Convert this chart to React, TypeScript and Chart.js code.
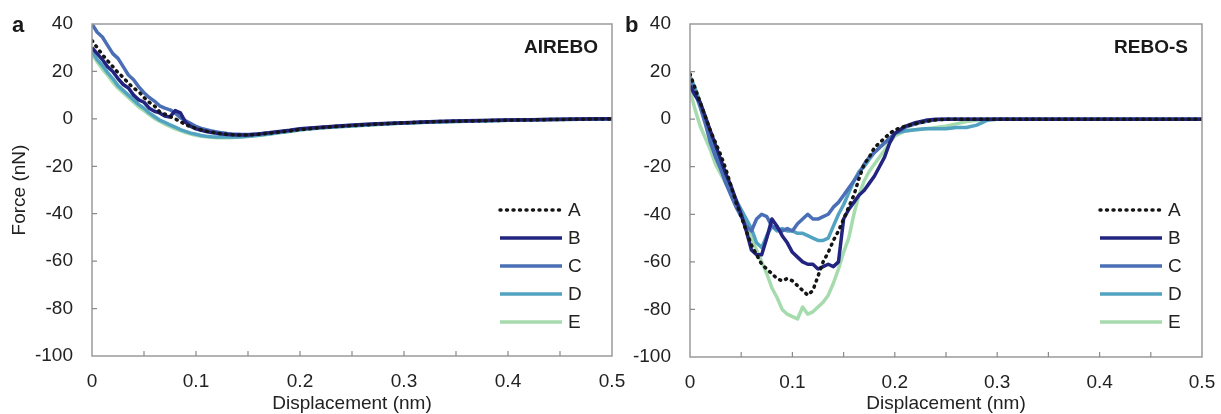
import React, { useEffect, useRef } from "react";
import { Chart, registerables } from "chart.js";

Chart.register(...registerables);

const seriesNames = ["A", "B", "C", "D", "E"];
const seriesColors = ["#151515", "#22247f", "#4a6fb6", "#51a3c1", "#a6dbae"];

const xTickMarks = [0.05, 0.1, 0.15, 0.2, 0.25, 0.3, 0.35, 0.4, 0.45];
const yTickMarks = [-80, -60, -40, -20, 0, 20];

// Panel a: AIREBO
const airX = [
  0, 0.005, 0.01, 0.015, 0.02, 0.025, 0.03, 0.035, 0.04, 0.045, 0.05, 0.055, 0.06, 0.065, 0.07, 0.075,
  0.08, 0.085, 0.09, 0.095, 0.1, 0.105, 0.11, 0.115, 0.12, 0.125, 0.13, 0.135, 0.14, 0.145, 0.15,
  0.16, 0.17, 0.18, 0.19, 0.2, 0.22, 0.24, 0.26, 0.28, 0.3, 0.33, 0.36, 0.4, 0.44, 0.47, 0.5,
];
const airA = [
  33, 30, 27, 24.5, 22, 19.5, 17.5, 15, 13, 11.5, 9, 7, 5.5, 3, 2, 1, 0, -1.2, -2.5, -3.3, -4, -4.6, -5.2, -5.6,
  -6, -6.3, -6.5, -6.7, -6.8, -6.8, -6.8,
  -6.5, -6.1, -5.6, -5.1, -4.5, -3.7, -3.1, -2.6, -2.1, -1.7, -1.2, -0.9, -0.6, -0.3, -0.15, 0,
];
const airB = [
  30, 27.5, 25, 22, 20, 17, 14.5, 13, 10, 8, 7, 4.5, 3.2, 2.5, 1.2, 0.8, 3.5, 2.5, -1.5, -3.2, -4.2, -4.8, -5.3,
  -5.8, -6.1, -6.4, -6.6, -6.7, -6.8, -6.8, -6.8,
  -6.4, -5.9, -5.3, -4.8, -4.2, -3.5, -2.9, -2.4, -2, -1.6, -1.1, -0.8, -0.5, -0.3, -0.1, 0,
];
const airC = [
  40, 36.5, 34.5, 31, 27.5, 25.5, 22, 18.5, 16.5, 13.5, 11, 9, 7.5, 5.5, 4.5, 3.8, 2.5, 0.5, -0.8, -2, -3.2, -4,
  -4.6, -5.1, -5.5, -5.9, -6.2, -6.4, -6.5, -6.6, -6.6,
  -6.4, -6, -5.5, -5, -4.4, -3.6, -3, -2.5, -2.1, -1.7, -1.2, -0.9, -0.6, -0.3, -0.15, 0,
];
const airD = [
  28.5, 25, 22.5, 19.5, 17, 14, 12, 10, 8, 6, 4.5, 2.5, 1, -0.5, -1.5, -2.5, -3.5, -4.5, -5.3, -6, -6.5, -7, -7.3,
  -7.5, -7.6, -7.7, -7.7, -7.7, -7.6, -7.5, -7.3,
  -6.9, -6.4, -5.8, -5.2, -4.6, -3.8, -3.2, -2.7, -2.2, -1.8, -1.3, -1, -0.6, -0.3, -0.15, 0,
];
const airE = [
  27.5, 24, 21, 18.5, 15.5, 13, 11, 9, 7, 5, 3.5, 1.8, 0.2, -1, -2.2, -3.2, -4.2, -5, -5.8, -6.4, -6.9, -7.3, -7.6,
  -7.8, -8, -8, -8, -7.9, -7.8, -7.6, -7.4,
  -7, -6.5, -5.9, -5.3, -4.7, -3.9, -3.3, -2.8, -2.3, -1.8, -1.3, -1, -0.6, -0.3, -0.15, 0,
];

// Panel b: REBO-S
const reboX = [
  0, 0.005, 0.01, 0.015, 0.02, 0.025, 0.03, 0.035, 0.04, 0.045, 0.05, 0.055, 0.06, 0.065, 0.07, 0.075, 0.08,
  0.085, 0.09, 0.095, 0.1, 0.105, 0.11, 0.115, 0.12, 0.125, 0.13, 0.135, 0.14, 0.145, 0.15, 0.155, 0.16, 0.165,
  0.17, 0.175, 0.18, 0.185, 0.19, 0.195, 0.2,
  0.21, 0.22, 0.23, 0.24, 0.25, 0.26, 0.27, 0.28, 0.29, 0.3, 0.35, 0.4, 0.45, 0.5,
];
const reboA = [
  19, 13, 7, 1, -5, -10, -15, -21, -28, -35, -41, -47, -53, -57, -61, -63, -65, -67, -68, -67, -68, -70, -72, -74,
  -72, -66, -60, -56, -51, -47, -42, -37, -32, -25, -19, -16, -12, -10, -8, -6, -4.5,
  -3, -2, -1, -0.3, 0, 0, 0, 0, 0, 0, 0, 0, 0, 0,
];
const reboB = [
  14, 10, 7, 1, -5, -11, -17, -23, -28, -34, -40, -47, -55, -57, -57, -50, -42, -45, -49, -52, -56, -58, -60, -61,
  -61, -63, -62, -61, -62, -60, -42, -38, -35, -32, -30, -27, -24, -20, -16, -10, -6,
  -3, -1.5, -0.5, 0, 0, 0, 0, 0, 0, 0, 0, 0, 0, 0,
];
const reboC = [
  16, 11, 5, -2, -10, -16, -21, -27, -32, -37, -41, -45, -47, -42, -40, -41, -45, -46, -47, -46, -47, -44, -42,
  -40, -42, -42, -41, -40, -37, -35, -32, -29, -26, -23, -19, -16, -14, -12, -10, -8, -6,
  -3.5, -2, -1, -0.3, 0, 0, 0, 0, 0, 0, 0, 0, 0, 0,
];
const reboD = [
  18, 13, 7, 1, -6, -14, -20, -25, -29, -34, -38, -42, -46, -52, -54, -49, -45, -47, -46, -47, -47, -48, -48, -49,
  -50, -51, -51, -50, -45, -40, -36, -31, -26, -22, -20, -17, -14, -12, -10, -8, -6,
  -5, -4.5, -4, -4, -4, -3.5, -3.5, -2.5, -0.5, 0, 0, 0, 0, 0,
];
const reboE = [
  12, 4, -3, -8, -13, -19, -23, -27, -31, -35, -39, -44, -50, -55, -60, -65, -71, -75, -80, -82, -83, -84, -79,
  -82, -81, -79, -77, -74, -69, -63, -56, -50, -40, -32, -26, -22, -19, -16, -13, -10, -7,
  -5, -4.5, -4, -3.5, -3, -2, -1, -0.5, 0, 0, 0, 0, 0, 0,
];

const FONT = '"Liberation Sans", Arial, Helvetica, sans-serif';
const TEXT = "#222222";

type PanelProps = {
  pageLeft: number;
  width: number;
  xs: number[];
  ys: number[][];
  yAxisWidth: number;
  padRight: number;
  xAxisHeight: number;
  showYTitle: boolean;
  letter: string;
  letterX: number;
  model: string;
  legendX1: number;
  legendX2: number;
  legendTextX: number;
};

function Panel(p: PanelProps) {
  const ref = useRef<HTMLCanvasElement | null>(null);
  useEffect(() => {
    if (!ref.current) return;
    const decor = {
      id: "decor" + p.letter,
      afterDraw(chart: any) {
        const { ctx, chartArea } = chart;
        const { left, right, top, bottom } = chartArea;
        const xs = chart.scales.x;
        const ysc = chart.scales.y;
        ctx.save();
        ctx.strokeStyle = "#9a9a9a";
        ctx.lineWidth = 1.5;
        ctx.strokeRect(left, top, right - left, bottom - top);
        ctx.lineWidth = 1.2;
        ctx.strokeStyle = "#8a8a8a";
        ctx.beginPath();
        xTickMarks.forEach((v) => {
          const px = xs.getPixelForValue(v);
          ctx.moveTo(px, bottom);
          ctx.lineTo(px, bottom - 5);
        });
        yTickMarks.forEach((v) => {
          const py = ysc.getPixelForValue(v);
          ctx.moveTo(left, py);
          ctx.lineTo(left + 5, py);
        });
        ctx.stroke();
        // legend
        chart.data.datasets.forEach((ds: any, i: number) => {
          const ly = top + 186 + i * 28;
          ctx.save();
          ctx.strokeStyle = ds.borderColor;
          ctx.lineWidth = ds.borderWidth;
          ctx.setLineDash(ds.borderDash || []);
          ctx.lineCap = ds.borderCapStyle || "butt";
          ctx.beginPath();
          ctx.moveTo(right + p.legendX1, ly);
          ctx.lineTo(right + p.legendX2, ly);
          ctx.stroke();
          ctx.restore();
          ctx.fillStyle = TEXT;
          ctx.font = `19px ${FONT}`;
          ctx.textBaseline = "middle";
          ctx.textAlign = "left";
          ctx.fillText(ds.label, right + p.legendTextX, ly + 1);
        });
        // panel letter & model name
        ctx.fillStyle = "#1a1a1a";
        ctx.textBaseline = "alphabetic";
        ctx.textAlign = "left";
        ctx.font = `bold 22px ${FONT}`;
        ctx.fillText(p.letter, p.letterX, 32);
        ctx.textAlign = "right";
        ctx.font = `bold 19px ${FONT}`;
        ctx.fillText(p.model, right - 14, 53);
        ctx.restore();
      },
    };
    const datasets = seriesNames.map((name, i) => ({
      label: name,
      data: p.xs.map((x, j) => ({ x, y: p.ys[i][j] })),
      borderColor: seriesColors[i],
      borderWidth: 3.5,
      borderDash: i === 0 ? [1, 5.5] : [],
      borderCapStyle: i === 0 ? "round" : "butt",
      borderJoinStyle: "round",
      pointRadius: 0,
      fill: false,
      tension: 0,
    }));
    const chart = new Chart(ref.current, {
      type: "line",
      data: { datasets } as any,
      plugins: [decor],
      options: {
        animation: false,
        responsive: false,
        devicePixelRatio: 1,
        layout: { padding: { left: 0, right: p.padRight, top: 24, bottom: 0 } },
        plugins: { legend: { display: false }, tooltip: { enabled: false } },
        scales: {
          x: {
            type: "linear",
            min: 0,
            max: 0.5,
            grid: { display: false, drawTicks: false },
            border: { display: false },
            ticks: {
              stepSize: 0.1,
              padding: 14,
              color: TEXT,
              font: { size: 19, family: FONT },
              maxRotation: 0,
              autoSkip: false,
              callback: (v: any) => String(Math.round(Number(v) * 10) / 10),
            },
            title: {
              display: true,
              text: "Displacement (nm)",
              color: TEXT,
              font: { size: 19, family: FONT },
              padding: { top: 0, bottom: -1.5 },
            },
            afterFit: (s: any) => {
              s.height = p.xAxisHeight;
              s.paddingLeft = 0;
              s.paddingRight = 0;
            },
          },
          y: {
            min: -100,
            max: 40,
            grid: { display: false, drawTicks: false },
            border: { display: false },
            ticks: {
              stepSize: 20,
              padding: 19,
              color: TEXT,
              font: { size: 19, family: FONT },
            },
            title: {
              display: p.showYTitle,
              text: "Force (nN)",
              color: TEXT,
              font: { size: 19, family: FONT },
              padding: { top: 8, bottom: 0 },
            },
            afterFit: (s: any) => {
              s.width = p.yAxisWidth;
              s.paddingTop = 0;
              s.paddingBottom = 0;
            },
          },
        },
      } as any,
    });
    return () => chart.destroy();
  }, []);
  return (
    <canvas
      ref={ref}
      width={p.width}
      height={414}
      style={{ position: "absolute", left: p.pageLeft, top: 0, width: p.width, height: 414 }}
    />
  );
}

export default function App() {
  return (
    <div style={{ position: "absolute", left: 0, top: 0, width: 1221, height: 414, background: "#ffffff", overflow: "hidden" }}>
      <Panel
        pageLeft={0}
        width={640}
        xs={airX}
        ys={[airA, airB, airC, airD, airE]}
        yAxisWidth={92}
        padRight={28}
        xAxisHeight={58}
        showYTitle={true}
        letter="a"
        letterX={12}
        model="AIREBO"
        legendX1={-112}
        legendX2={-50}
        legendTextX={-44}
      />
      <Panel
        pageLeft={600}
        width={621}
        xs={reboX}
        ys={[reboA, reboB, reboC, reboD, reboE]}
        yAxisWidth={90}
        padRight={19}
        xAxisHeight={57}
        showYTitle={false}
        letter="b"
        letterX={25}
        model="REBO-S"
        legendX1={-102}
        legendX2={-40}
        legendTextX={-34}
      />
    </div>
  );
}
